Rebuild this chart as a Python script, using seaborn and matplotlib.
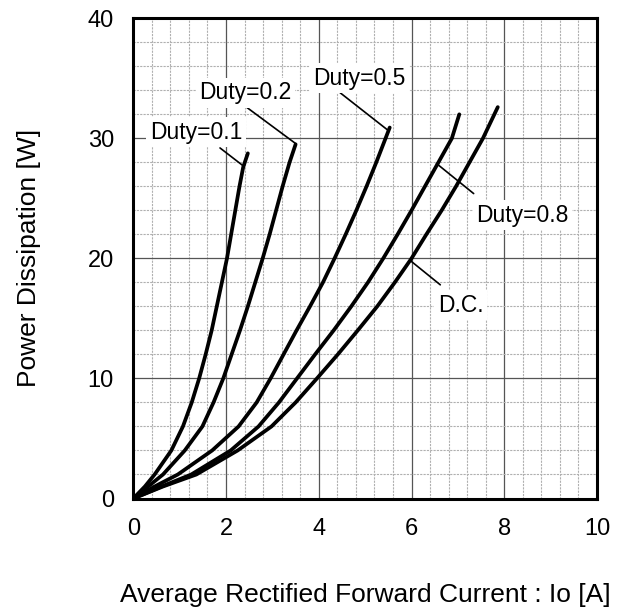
import matplotlib
matplotlib.use("Agg")
import matplotlib.pyplot as plt
from matplotlib.ticker import MultipleLocator
import seaborn as sns
import pandas as pd

sns.set_theme(style="white")
plt.rcParams['font.family'] = ['Liberation Sans', 'DejaVu Sans']
plt.rcParams['text.color'] = 'black'
plt.rcParams['axes.labelcolor'] = 'black'
plt.rcParams['xtick.color'] = 'black'
plt.rcParams['ytick.color'] = 'black'

# ---- data ----
duty01_y = [0, 1, 2, 4, 6, 8, 10, 12, 14, 16, 18, 20, 22, 24, 26, 27.6, 28.75]
duty01_x = [0, 0.25, 0.46, 0.82, 1.07, 1.26, 1.42, 1.56, 1.69, 1.80, 1.91, 2.02, 2.11, 2.20, 2.29, 2.37, 2.47]

duty02_y = [0, 1, 2, 4, 6, 8, 10, 12, 14, 16, 18, 20, 22, 24, 26, 28, 29.5]
duty02_x = [0, 0.32, 0.64, 1.11, 1.49, 1.73, 1.94, 2.12, 2.30, 2.47, 2.63, 2.79, 2.94, 3.08, 3.22, 3.37, 3.50]

duty05_y = [0, 1, 2, 4, 6, 8, 10, 12, 14, 16, 18, 20, 22, 24, 26, 28, 30, 30.9]
duty05_x = [0, 0.46, 0.96, 1.70, 2.27, 2.66, 2.96, 3.24, 3.52, 3.81, 4.09, 4.34, 4.58, 4.81, 5.03, 5.24, 5.44, 5.53]

duty08_y = [0, 1, 2, 4, 6, 8, 10, 12, 14, 16, 18, 20, 22, 24, 26, 28, 30, 32.0]
duty08_x = [0, 0.61, 1.25, 2.10, 2.70, 3.14, 3.53, 3.92, 4.32, 4.70, 5.06, 5.39, 5.70, 6.00, 6.29, 6.58, 6.87, 7.03]

dc_y = [0, 1, 2, 4, 6, 8, 10, 12, 14, 16, 18, 20, 22, 24, 26, 28, 30, 32.6]
dc_x = [0, 0.64, 1.36, 2.25, 2.98, 3.50, 3.96, 4.41, 4.84, 5.26, 5.64, 6.00, 6.32, 6.65, 6.96, 7.25, 7.54, 7.86]

series_names = ["Duty=0.1", "Duty=0.2", "Duty=0.5", "Duty=0.8", "D.C."]
series_x = [duty01_x, duty02_x, duty05_x, duty08_x, dc_x]
series_y = [duty01_y, duty02_y, duty05_y, duty08_y, dc_y]

# label text positions (data coords) and leader lines (start -> end)
label_pos = [(1.35, 30.5), (2.42, 33.8), (4.88, 35.0), (8.39, 23.6), (7.06, 16.1)]
leader_start = [(1.87, 29.2), (2.44, 32.6), (4.46, 33.8), (7.34, 25.4), (6.62, 17.8)]
leader_end = [(2.39, 27.65), (3.51, 29.54), (5.50, 30.65), (6.54, 27.9), (5.98, 19.8)]

x_ticks = [0, 2, 4, 6, 8, 10]
y_ticks = [0, 10, 20, 30, 40]
x_label = "Average Rectified Forward Current : Io [A]"
y_label = "Power Dissipation [W]"

# ---- figure ----
fig = plt.figure(figsize=(6.28, 6.11), dpi=100)
ax = fig.add_axes([133.3 / 628, 1 - 498.5 / 611, (597 - 133.3) / 628, (498.5 - 18.3) / 611])

for name, xs, ys in zip(series_names, series_x, series_y):
    df = pd.DataFrame({"x": xs, "y": ys})
    sns.lineplot(data=df, x="x", y="y", ax=ax, color="black", lw=2.7,
                 sort=False, estimator=None, zorder=4)
for line in ax.lines:
    line.set_solid_joinstyle("round")

for name, pos, s, e in zip(series_names, label_pos, leader_start, leader_end):
    ax.plot([s[0], e[0]], [s[1], e[1]], color="black", lw=1.2, zorder=3)
    ax.text(pos[0], pos[1], name, fontsize=16.5, ha="center", va="center", zorder=5,
            color="black", bbox=dict(facecolor="white", edgecolor="none", pad=2.5))

ax.set_xlim(0, 10)
ax.set_ylim(0, 40)
ax.set_xticks(x_ticks)
ax.set_yticks(y_ticks)
ax.xaxis.set_minor_locator(MultipleLocator(0.4))
ax.yaxis.set_minor_locator(MultipleLocator(2))
ax.grid(which="major", color="#555555", lw=0.9, ls="-", zorder=1)
ax.grid(which="minor", color="#b0b0b0", lw=0.8, ls=(0, (2, 1)), zorder=0)
ax.set_axisbelow(True)
ax.tick_params(which="both", length=0, labelsize=17, colors="black")
ax.tick_params(axis="x", pad=14)
ax.tick_params(axis="y", pad=14)
for sp in ax.spines.values():
    sp.set_color("black")
    sp.set_linewidth(2.2)
ax.set_xlabel("")
ax.set_ylabel("")

fig.text(365.8 / 628, 1 - 595 / 611, x_label, fontsize=19, ha="center", va="center", color="black")
fig.text(29 / 628, 1 - 257.5 / 611, y_label, fontsize=19, ha="center", va="center",
         rotation=90, color="black")

fig.savefig("out.png", dpi=100, facecolor="white")
